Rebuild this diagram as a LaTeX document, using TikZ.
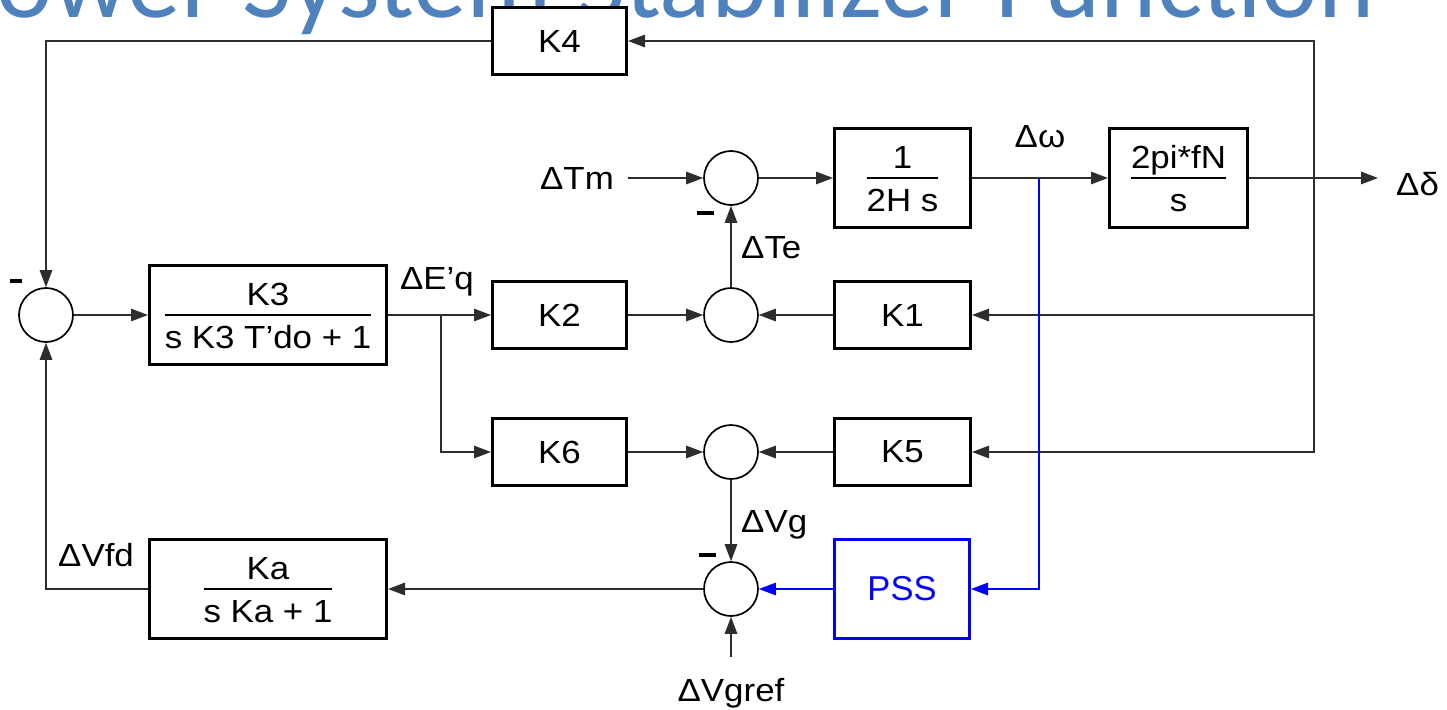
\documentclass[tikz,border=0pt]{standalone}
\usepackage{fontspec}
\setmainfont{Liberation Sans}
\newfontfamily\blkfont[FakeStretch=1.09]{Liberation Sans}
\newfontfamily\titlefont{Carlito}
\usetikzlibrary{arrows.meta}
\definecolor{titleblue}{RGB}{79,129,189}
\definecolor{pssblue}{RGB}{0,0,255}
\definecolor{wirecol}{RGB}{45,45,45}
\newcommand\frc[2]{{\renewcommand\arraystretch{0}\setlength\arrayrulewidth{1.6pt}\begin{tabular}{@{}c@{}}\rule[-9pt]{0pt}{42pt}\smash{#1}\\\hline\rule[-9pt]{0pt}{42pt}\smash{#2}\end{tabular}}}
\tikzset{
  blk/.style={draw, line width=3pt, fill=white, minimum width=134pt, minimum height=67pt, inner sep=0pt, font=\blkfont\fontsize{32}{38}\selectfont},
  fblk/.style={blk, minimum height=99pt},
  sumc/.style={draw, circle, line width=1.7pt, minimum size=54pt, inner sep=0pt, fill=white},
  sig/.style={line width=1.3pt, draw=wirecol, -{Triangle[length=17pt,width=12.5pt]}},
  bsig/.style={sig, draw=pssblue, color=pssblue},
  lbl/.style={font=\blkfont\fontsize{32}{38}\selectfont, inner sep=0pt},
  minus/.style={inner sep=0pt}
}
\begin{document}
\begin{tikzpicture}[x=1pt,y=-1pt]
\useasboundingbox (0,0) rectangle (1447,709);
\clip (0,0) rectangle (1447,709);
% title (cut off at the top)
\node[anchor=base west, inner sep=0pt, text=titleblue, font=\titlefont\fontsize{107}{120}\selectfont] (title) at (-57,18) {Power System Stabilizer Function};
% blocks
\node[blk] (k4) at (559.5,41) {K4};
\node[fblk, minimum width=237pt] (k3) at (268,315) {\frc{K3}{s K3 T’do + 1}};
\node[blk] (k2) at (559.5,315) {K2};
\node[blk, minimum width=136pt] (k1) at (902.5,315) {K1};
\node[fblk, minimum width=136pt] (h) at (902.5,178) {\frc{1}{2H s}};
\node[fblk, minimum width=138pt] (fn) at (1178.5,178) {\frc{2pi*fN}{s}};
\node[blk] (k6) at (559.5,452) {K6};
\node[blk, minimum width=136pt] (k5) at (902.5,452) {K5};
\node[fblk, draw=pssblue, text=pssblue, minimum width=135pt, font=\fontsize{34.5}{40}\selectfont] (pss) at (902,589) {PSS};
\node[fblk, minimum width=237pt] (ka) at (268,589) {\frc{Ka}{s Ka + 1}};
% summing junctions
\node[sumc] (s0) at (46,315) {};
\node[sumc] (s1) at (731,178) {};
\node[sumc] (s2) at (731,315) {};
\node[sumc] (s3) at (731,452) {};
\node[sumc] (s4) at (731,589) {};
% free ends and branch points
\coordinate (tmin) at (628,178);
\coordinate (dout) at (1378,178);
\coordinate (wbr) at (1039,178);
\coordinate (dbr) at (1314,178);
\coordinate (ebr) at (441,315);
\coordinate (vref) at (731,657);
% labels
\node[lbl, anchor=base east] (ltm) at (614,189) {ΔTm};
\node[lbl, anchor=base] (lw) at (1040,147) {Δω};
\node[lbl, anchor=base west] (ld) at (1396,195) {Δδ};
\node[lbl, anchor=base] (le) at (437,289) {ΔE’q};
\node[lbl, anchor=base west] (lte) at (741,258) {ΔTe};
\node[lbl, anchor=base west] (lvg) at (741,532) {ΔVg};
\node[lbl, anchor=base west] (lvfd) at (58,566) {ΔVfd};
\node[lbl, anchor=base] (lvref) at (731,701) {ΔVgref};
\node[minus] (m0) at (16,281) {\rule{12pt}{3.2pt}};
\node[minus] (m1) at (705,213) {\rule{17pt}{3.2pt}};
\node[minus] (m4) at (707,555) {\rule{17pt}{3.2pt}};
% connectors
\draw[sig] (tmin) -- (s1);
\draw[sig] (s1) -- (h);
\draw[sig] (h) -- (fn);
\draw[sig] (fn) -- (dout);
\draw[sig] (dbr) |- (k4);
\draw[sig] (dbr) |- (k1);
\draw[sig] (dbr) |- (k5);
\draw[bsig] (wbr) |- (pss);
\draw[sig] (k1) -- (s2);
\draw[sig] (k2) -- (s2);
\draw[sig] (k3) -- (k2);
\draw[sig] (ebr) |- (k6);
\draw[sig] (s0) -- (k3);
\draw[sig] (s2) -- (s1);
\draw[sig] (k6) -- (s3);
\draw[sig] (k5) -- (s3);
\draw[sig] (s3) -- (s4);
\draw[bsig] (pss) -- (s4);
\draw[sig] (vref) -- (s4);
\draw[sig] (s4) -- (ka);
\draw[sig] (ka.west) -| (s0.south);
\draw[sig] (k4.west) -| (s0.north);
\end{tikzpicture}
\end{document}
